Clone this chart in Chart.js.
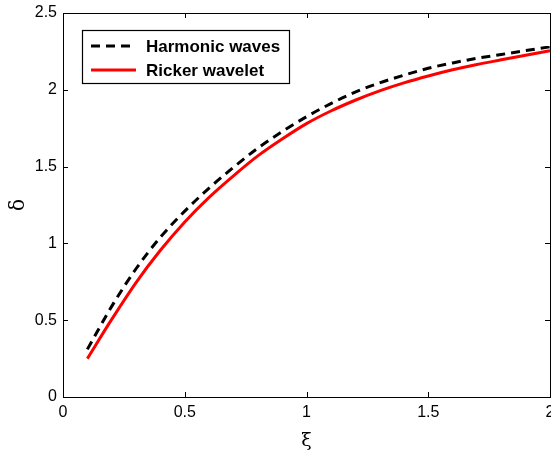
<!DOCTYPE html>
<html>
<head>
<meta charset="utf-8">
<script src="https://cdn.jsdelivr.net/npm/chart.js@4/dist/chart.umd.min.js"></script>
<style>
html,body{margin:0;padding:0;background:#fff;}
#wrap{width:551px;height:452px;position:relative;}
</style>
</head>
<body>
<div id="wrap"><canvas id="c" width="551" height="452"></canvas></div>
<script>
const xi = [0.1,0.2,0.3,0.4,0.5,0.6,0.7,0.8,0.9,1.0,1.1,1.2,1.3,1.4,1.5,1.6,1.7,1.8,1.9,2.0];
const harmonic = [0.31,0.59,0.835,1.04,1.21,1.36,1.495,1.62,1.728,1.825,1.91,1.985,2.045,2.095,2.14,2.175,2.205,2.23,2.255,2.28];
const ricker = [0.25,0.505,0.745,0.955,1.14,1.30,1.44,1.57,1.68,1.78,1.862,1.932,1.993,2.045,2.09,2.13,2.165,2.195,2.225,2.255];
const seriesNames = ['Harmonic waves','Ricker wavelet'];
const xTickLabels = ['0','0.5','1','1.5','2'];
const yTickLabels = ['0','0.5','1','1.5','2','2.5'];
const xTitle = 'ξ';
const yTitle = 'δ';

const boxPlugin = {
  id:'boxPlugin',
  afterDraw(chart){
    const ctx = chart.ctx;
    const {left,right,top,bottom} = chart.chartArea;
    const xs = chart.scales.x, ys = chart.scales.y;
    ctx.save();
    ctx.strokeStyle = '#000';
    ctx.lineWidth = 1;
    ctx.strokeRect(Math.round(left)+0.5, Math.round(top)+0.5, Math.round(right-left), Math.round(bottom-top));
    const L = 5;
    ctx.beginPath();
    xs.ticks.forEach(t=>{
      const p = Math.round(xs.getPixelForValue(t.value))+0.5;
      ctx.moveTo(p,bottom); ctx.lineTo(p,bottom-L);
      ctx.moveTo(p,top); ctx.lineTo(p,top+L);
    });
    ys.ticks.forEach(t=>{
      const p = Math.round(ys.getPixelForValue(t.value))+0.5;
      ctx.moveTo(left,p); ctx.lineTo(left+L,p);
      ctx.moveTo(right,p); ctx.lineTo(right-L,p);
    });
    ctx.stroke();
    // legend
    const lx = 82, ly = 30, lw = 207, lh = 53;
    ctx.fillStyle = '#fff';
    ctx.fillRect(lx,ly,lw,lh);
    ctx.lineWidth = 1.2;
    ctx.strokeRect(lx+0.5,ly+0.5,lw,lh);
    ctx.font = 'bold 17px "Liberation Sans", Arial, sans-serif';
    ctx.textBaseline = 'middle';
    chart.data.datasets.forEach((ds,i)=>{
      const yy = 46 + i*24;
      ctx.beginPath();
      ctx.strokeStyle = ds.borderColor;
      ctx.lineWidth = ds.borderWidth;
      ctx.setLineDash(ds.borderDash || []);
      ctx.moveTo(91,yy); ctx.lineTo(136,yy);
      ctx.stroke();
      ctx.setLineDash([]);
      ctx.fillStyle = '#000';
      ctx.fillText(ds.label,146,yy+1);
    });
    ctx.restore();
  }
};

new Chart(document.getElementById('c'),{
  type:'line',
  data:{
    datasets:[
      {label:seriesNames[0], data:xi.map((x,i)=>({x:x,y:harmonic[i]})), borderColor:'#000', borderWidth:3, borderDash:[9,6], pointRadius:0, cubicInterpolationMode:'monotone', fill:false},
      {label:seriesNames[1], data:xi.map((x,i)=>({x:x,y:ricker[i]})), borderColor:'#ff0000', borderWidth:3, pointRadius:0, cubicInterpolationMode:'monotone', fill:false}
    ]
  },
  options:{
    responsive:false,
    animation:false,
    devicePixelRatio:1,
    layout:{padding:{top:13,right:1,left:0,bottom:0}},
    plugins:{legend:{display:false},tooltip:{enabled:false}},
    scales:{
      x:{
        type:'linear', min:0, max:2,
        grid:{display:false, drawTicks:false},
        border:{display:false},
        ticks:{stepSize:0.5, color:'#000', padding:6, maxRotation:0,
          font:{family:'"Liberation Sans", Arial, sans-serif', size:16},
          callback:(v,i)=>xTickLabels[i]},
        title:{display:true, text:xTitle, color:'#000', font:{family:'"DejaVu Serif", serif', size:19}, padding:{top:4,bottom:0}},
        afterFit(s){ s.height = 55; s.paddingLeft = 0; s.paddingRight = 0; }
      },
      y:{
        type:'linear', min:0, max:2.5,
        grid:{display:false, drawTicks:false},
        border:{display:false},
        ticks:{stepSize:0.5, color:'#000', padding:6,
          font:{family:'"Liberation Sans", Arial, sans-serif', size:16},
          callback:(v,i)=>yTickLabels[i]},
        title:{display:true, text:yTitle, color:'#000', font:{family:'"DejaVu Serif", serif', size:20}, padding:{top:7,bottom:4}},
        afterFit(s){ s.width = 63; s.paddingTop = 0; s.paddingBottom = 0; }
      }
    }
  },
  plugins:[boxPlugin]
});
</script>
</body>
</html>
